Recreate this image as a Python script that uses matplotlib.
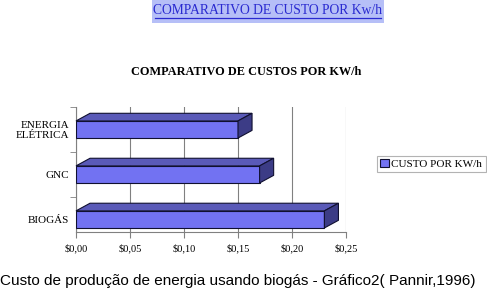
import matplotlib.pyplot as plt
from matplotlib.patches import Polygon, Rectangle, Patch
from matplotlib.lines import Line2D

categories = ["BIOGÁS", "GNC", "ENERGIA\nELÉTRICA"]
custo = [0.23, 0.17, 0.15]
xticks = [0.00, 0.05, 0.10, 0.15, 0.20, 0.25]
xtick_labels = ["\\$0,00", "\\$0,05", "\\$0,10", "\\$0,15", "\\$0,20", "\\$0,25"]

FRONT = "#7272f2"
TOP = "#5a5ab8"
SIDE = "#3c3c86"
EDGE = "#101030"
SERIF = "Liberation Serif"

W, H = 487, 293
fig = plt.figure(figsize=(W / 100, H / 100), dpi=100)

# banner on top
fig.patches.append(Rectangle((152 / W, 1 - 23 / H), 232 / W, 23 / H,
                             transform=fig.transFigure, facecolor="#b6bff7",
                             edgecolor="none"))
fig.text(268 / W, 1 - 11 / H, "COMPARATIVO DE CUSTO POR Kw/h", family=SERIF,
         fontsize=9.8, color="#2a2ad0", ha="center", va="center")
fig.lines.append(Line2D([155 / W, 381 / W], [1 - 18 / H, 1 - 18 / H],
                        transform=fig.transFigure, color="#2a2ad0", lw=0.9))

fig.text(246 / W, 1 - 72 / H, "COMPARATIVO DE CUSTOS POR KW/h", family=SERIF,
         fontsize=8.8, weight="bold", ha="center", va="center")

ax = fig.add_axes([76 / W, 1 - 232 / H, 270 / W, 125 / H])
ax.set_xlim(0, 0.25)
ax.set_ylim(-0.28, 2.5)

h = 0.38
dx, dy = 0.013, 0.17
ypos = range(len(categories))
ax.barh(list(ypos), custo, height=h, color=FRONT, edgecolor=EDGE,
        linewidth=0.8, zorder=3)
for y, v in zip(ypos, custo):
    top, bot = y + h / 2, y - h / 2
    ax.add_patch(Polygon([(0, top), (v, top), (v + dx, top + dy), (dx, top + dy)],
                         closed=True, facecolor=TOP, edgecolor=EDGE, lw=0.8,
                         zorder=3, clip_on=False))
    ax.add_patch(Polygon([(v, bot), (v, top), (v + dx, top + dy), (v + dx, bot + dy)],
                         closed=True, facecolor=SIDE, edgecolor=EDGE, lw=0.8,
                         zorder=3, clip_on=False))

ax.set_xticks(xticks)
ax.set_xticklabels(xtick_labels, family=SERIF, fontsize=7.5)
ax.set_yticks(list(ypos))
ax.set_yticklabels(categories, family=SERIF, fontsize=8, linespacing=1.1)
ax.set_yticks([0.5, 1.5, 2.5], minor=True)
ax.tick_params(axis="y", which="major", length=0, pad=5)
ax.tick_params(axis="y", which="minor", length=4, color="#808080")
ax.tick_params(axis="x", length=4, color="#808080", pad=4)
ax.grid(axis="x", color="#808080", lw=0.8, zorder=0)
for s in ["top", "right"]:
    ax.spines[s].set_visible(False)
for s in ["left", "bottom"]:
    ax.spines[s].set_color("#808080")
    ax.spines[s].set_linewidth(0.8)

leg = fig.legend([Patch(facecolor=FRONT, edgecolor=EDGE, lw=0.8)], ["CUSTO POR KW/h"],
                 loc="center left", bbox_to_anchor=(377 / W, 1 - 164 / H),
                 prop={"family": SERIF, "size": 8}, frameon=True, fancybox=False,
                 edgecolor="#a0a0a0", handlelength=0.8, handleheight=0.8,
                 handletextpad=0.2, borderpad=0.3, borderaxespad=0)
leg.get_frame().set_linewidth(0.8)

fig.text(0, 1 - 281 / H, "Custo de produção de energia usando biogás - Gráfico2( Pannir,1996)",
         family="Liberation Sans", fontsize=11, ha="left", va="center")

fig.savefig("out.png", dpi=100)
